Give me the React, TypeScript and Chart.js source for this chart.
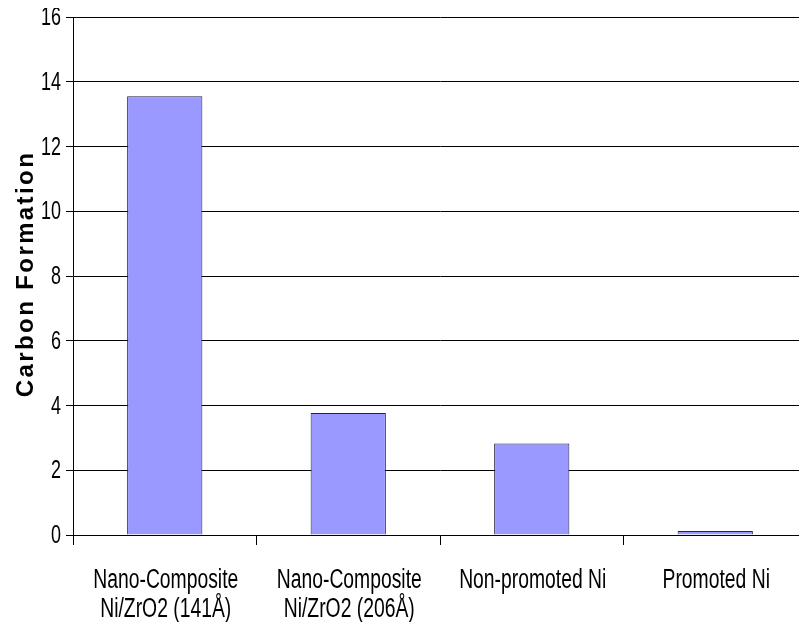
import React, { useEffect, useRef } from "react";
import { Chart, registerables } from "chart.js";

Chart.register(...registerables);

// Catalyst samples and measured carbon formation
const categories: string[][] = [
  ["Nano-Composite", "Ni/ZrO2 (141Å)"],
  ["Nano-Composite", "Ni/ZrO2 (206Å)"],
  ["Non-promoted Ni"],
  ["Promoted Ni"],
];
const carbonFormation: number[] = [13.55, 3.77, 2.83, 0.12];
const yTicks: number[] = [0, 2, 4, 6, 8, 10, 12, 14, 16];
const yTitle = "Carbon Formation";

const SANS = "'Liberation Sans', Arial, sans-serif";

// Draws text squeezed horizontally, like a narrow typeface
function drawNarrow(
  ctx: CanvasRenderingContext2D,
  text: string,
  x: number,
  y: number,
  squeeze: number,
  align: CanvasTextAlign,
  baseline: CanvasTextBaseline
) {
  ctx.save();
  ctx.translate(x, y);
  ctx.scale(squeeze, 1);
  ctx.textAlign = align;
  ctx.textBaseline = baseline;
  ctx.fillText(text, 0, 0);
  ctx.restore();
}

// Tick labels and the letter-spaced value-axis title
const labelsPlugin = {
  id: "narrowLabels",
  afterDraw(chart: Chart) {
    const { ctx, chartArea } = chart;
    const xScale: any = chart.scales.x;
    const yScale: any = chart.scales.y;
    ctx.save();
    ctx.fillStyle = "#000";

    // value axis labels
    ctx.font = `26px ${SANS}`;
    yTicks.forEach((v) => {
      const py = yScale.getPixelForValue(v);
      drawNarrow(ctx, String(v), chartArea.left - 12, py + 1, 0.69, "right", "middle");
    });

    // category labels
    ctx.font = `27px ${SANS}`;
    categories.forEach((lines, i) => {
      const px = xScale.getPixelForValue(i) + 1;
      lines.forEach((line, j) => {
        drawNarrow(ctx, line, px, chartArea.bottom + 53 + j * 29, 0.716, "center", "alphabetic");
      });
    });

    // axis title
    ctx.translate(25, (chartArea.top + chartArea.bottom) / 2 - 1);
    ctx.rotate(-Math.PI / 2);
    ctx.font = `bold 24px ${SANS}`;
    (ctx as any).letterSpacing = "2.4px";
    ctx.textAlign = "center";
    ctx.textBaseline = "alphabetic";
    ctx.fillText(yTitle, 1, 0);
    ctx.restore();
  },
};

export default function App() {
  const canvasRef = useRef<HTMLCanvasElement | null>(null);

  useEffect(() => {
    if (!canvasRef.current) return;
    const chart = new Chart(canvasRef.current, {
      type: "bar",
      data: {
        labels: categories,
        datasets: [
          {
            data: carbonFormation,
            backgroundColor: "#9999FF",
            borderColor: "#222244",
            borderWidth: 1,
            barPercentage: 0.41,
            categoryPercentage: 1,
          },
        ],
      },
      options: {
        responsive: false,
        animation: false,
        layout: { padding: { top: 9, right: 0, left: 0, bottom: 0 } },
        plugins: {
          legend: { display: false },
          tooltip: { enabled: false },
        },
        scales: {
          x: {
            grid: {
              display: true,
              drawOnChartArea: false,
              drawTicks: true,
              tickLength: 10,
              color: "#000",
              offset: true,
            },
            border: { display: true, color: "#000", width: 1 },
            ticks: { display: false },
            afterFit(scale: any) {
              scale.height = 87;
            },
          },
          y: {
            min: 0,
            max: 16,
            afterBuildTicks(scale: any) {
              scale.ticks = yTicks.map((v) => ({ value: v }));
            },
            grid: {
              color: "#000",
              lineWidth: 1,
              drawTicks: true,
              tickLength: 7,
            },
            border: { display: true, color: "#000", width: 1 },
            ticks: { display: false },
            afterFit(scale: any) {
              scale.width = 65;
            },
          },
        },
      },
      plugins: [labelsPlugin],
    });
    return () => chart.destroy();
  }, []);

  return <canvas ref={canvasRef} width={799} height={614} style={{ display: "block" }} />;
}
